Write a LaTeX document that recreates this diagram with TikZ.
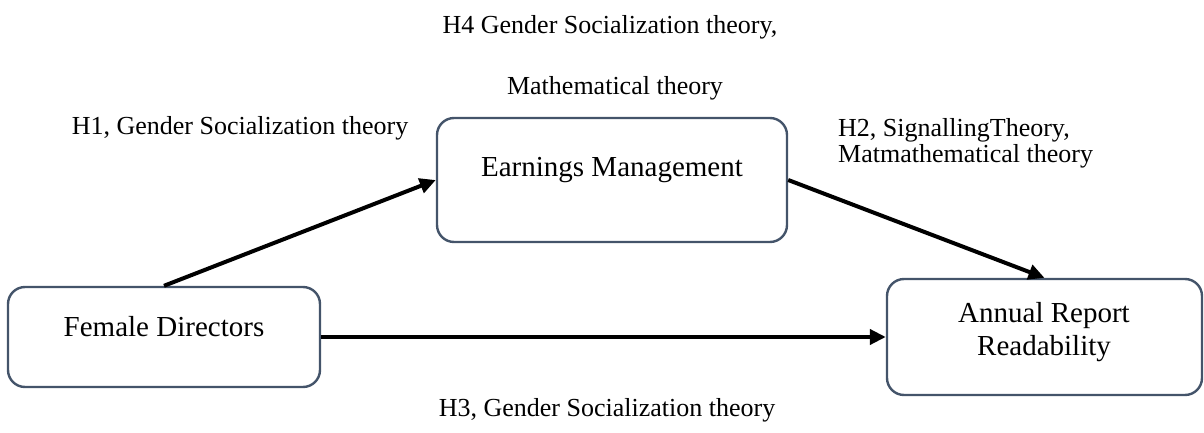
\documentclass[tikz,border=0pt]{standalone}
\usepackage{fontspec}
\setmainfont{Liberation Serif}
\usetikzlibrary{arrows.meta}
\definecolor{boxline}{RGB}{68,84,106}
\tikzset{
  box/.style={draw=boxline, line width=2.4pt, rounded corners=17pt, fill=white},
  boxtext/.style={font=\fontsize{29}{33}\selectfont, align=center, inner sep=0pt},
  lbl/.style={font=\fontsize{26}{26}\selectfont, inner sep=0pt},
  conn/.style={line width=4pt, -{Triangle[length=16pt,width=15pt]}}
}
\begin{document}
\begin{tikzpicture}[x=1pt,y=-1pt]
\useasboundingbox (0,0) rectangle (1204,433);
\node[box, minimum width=350pt, minimum height=124pt] (em) at (612,180) {};
\node[box, minimum width=312pt, minimum height=100pt] (fd) at (164,337) {};
\node[box, minimum width=315pt, minimum height=116pt] (ar) at (1044.5,337) {};
\node[boxtext] (emt) at (612,170) {Earnings Management};
\node[boxtext] (fdt) at (164,327) {Female Directors};
\node[boxtext] (art) at (1044,332) {Annual Report\\Readability};
\draw[conn] (fd.north) -- (em.west);
\draw[conn] (em.east) -- (ar.north);
\draw[conn] (fd.east) -- (ar.west);
\node[lbl] (h4a) at (610,27) {H4 Gender Socialization theory,};
\node[lbl] (h4b) at (615,88) {Mathematical theory};
\node[lbl] (h1) at (240,128) {H1, Gender Socialization theory};
\node[lbl, anchor=west] (h2a) at (838,130) {H2, SignallingTheory,};
\node[lbl, anchor=west] (h2b) at (838,156) {Matmathematical theory};
\node[lbl] (h3) at (607,410) {H3, Gender Socialization theory};
\end{tikzpicture}
\end{document}
